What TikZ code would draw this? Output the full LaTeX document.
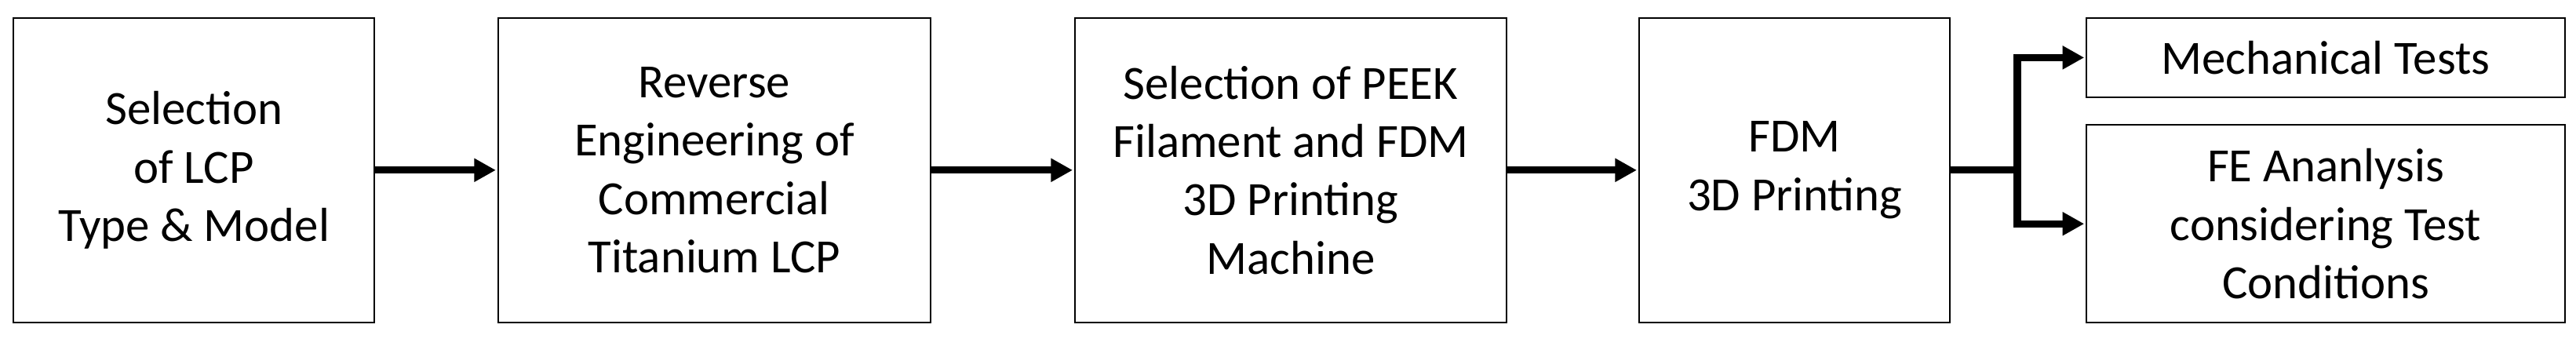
\documentclass[tikz,border=0pt]{standalone}
\usepackage{fontspec}
\setmainfont{Carlito}
\usetikzlibrary{calc, arrows.meta, positioning}
\tikzset{
    stagenode/.style = {draw, rectangle, line width=0.5pt, inner sep = 0em, node distance=0em, 
      minimum height=97.1pt, font=\fontsize{15.2pt}{18.6pt}\selectfont},
    connect/.style = {black, line width=2.3pt, shorten >=0.5pt, -{Triangle[length=6.9pt, width=7.1pt]}},
    splitline/.style = {black, line width=2.3pt},
    every text node part/.style={align=center}
}

\begin{document}
\begin{tikzpicture}[node distance=0em]
    \useasboundingbox (0pt,0pt) rectangle (820.75pt,-107.75pt);
    \node [stagenode, name=LCP, minimum width=114.9pt] at (61.8pt,-54.2pt) {Selection\\of LCP\\Type \& Model};
    \node [stagenode, name=Reverse, right of = LCP, xshift=165.8pt, minimum width=137.75pt] {Reverse\\Engineering of\\Commercial\\Titanium LCP};
    \node [stagenode, name=PEEK, right of = Reverse, xshift=183.65pt, minimum width=137.5pt] {Selection of PEEK\\Filament and FDM\\3D Printing\\Machine};
    \node [stagenode, name=FDM, right of = PEEK, xshift=160.55pt, minimum width=99.1pt] {FDM\\3D Printing};
    \node [stagenode, name=Tests, right of = FDM, xshift=169.2pt, yshift=35.86pt, 
        minimum width=152.4pt, minimum height=25.3pt] {Mechanical Tests};
    \node [stagenode, name=FEA, right of = FDM, xshift=169.2pt, yshift=-17.1pt, 
        minimum width=152.4pt, minimum height=62.9pt] {FE Ananlysis\\considering Test\\Conditions};
    \coordinate [name=split, right of = FDM, xshift=70.95pt];

    \draw [connect] (LCP.east) -- (Reverse.west);
    \draw [connect] (Reverse.east) -- (PEEK.west);
    \draw [connect] (PEEK.east) -- (FDM.west);
    \draw [splitline] (FDM.east) -- (split);
    \draw [connect] (split) |- (Tests.west);
    \draw [connect] (split) |- (FEA.west);
\end{tikzpicture}
\end{document}
